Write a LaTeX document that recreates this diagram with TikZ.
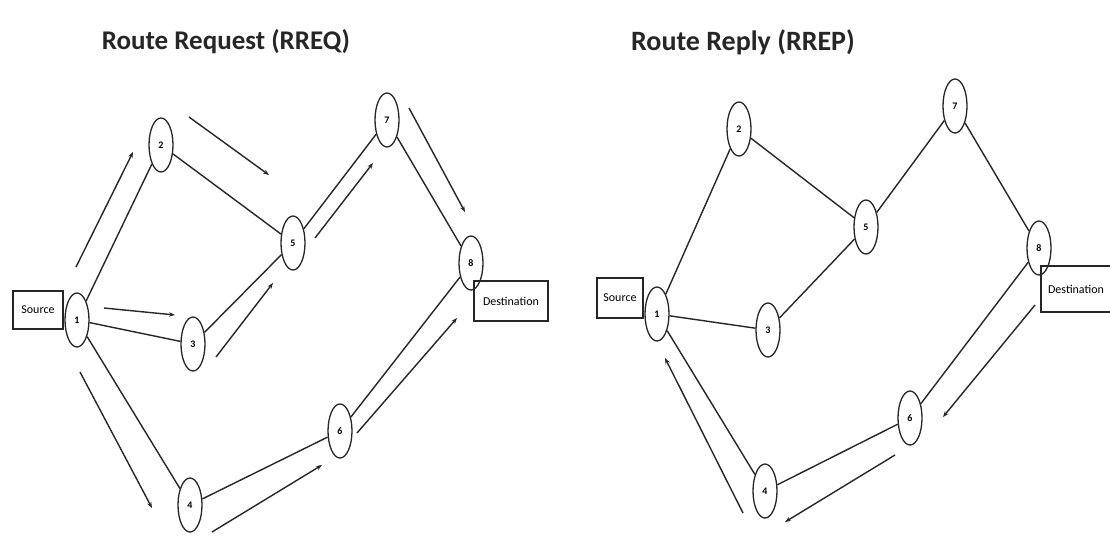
\documentclass[tikz,border=0pt]{standalone}
\usepackage{fontspec}
\setmainfont{Carlito}
\usetikzlibrary{shapes.geometric,arrows.meta}
\begin{document}
\begin{tikzpicture}[x=1pt,y=-1pt,
  nd/.style={draw=black!85,line width=1.3pt,ellipse,minimum width=24pt,minimum height=54pt,inner sep=0pt,font=\fontsize{10}{10}\selectfont\bfseries},
  lbl/.style={draw=black!85,line width=1.3pt,rectangle,inner sep=1pt,font=\fontsize{12}{12}\selectfont},
  edge/.style={draw=black!85,line width=1.4pt},
  msg/.style={draw=black!85,line width=1.4pt,-{Stealth[length=6pt,width=4.5pt]}},
  ttl/.style={font=\fontsize{27}{27}\selectfont\bfseries,text=black!85}]
\useasboundingbox (0,0) rectangle (1110,535);
% ---------- left panel: RREQ ----------
\node[ttl] (t1) at (226,42) {Route Request (RREQ)};
\node[nd] (a1) at (77,320) {1};
\node[nd] (a2) at (161,145) {2};
\node[nd] (a3) at (193,344) {3};
\node[nd] (a4) at (190,505) {4};
\node[nd] (a5) at (293,243) {5};
\node[nd] (a6) at (340,431) {6};
\node[nd] (a7) at (387,120) {7};
\node[nd] (a8) at (471,263) {8};
\node[lbl,minimum width=50pt,minimum height=38pt] (as) at (38,310) {Source};
\node[lbl,minimum width=74pt,minimum height=40pt] (ad) at (511,301) {Destination};
\draw[edge] (a1) -- (a2);
\draw[edge] (a2) -- (a5);
\draw[edge] (a5) -- (a7);
\draw[edge] (a7) -- (a8);
\draw[edge] (a1) -- (a3);
\draw[edge] (a3) -- (a5);
\draw[edge] (a1) -- (a4);
\draw[edge] (a4) -- (a6);
\draw[edge] (a6) -- (a8);
\coordinate (p1s) at (76,267); \coordinate (p1e) at (133,152);
\coordinate (p2s) at (189,117); \coordinate (p2e) at (269,175);
\coordinate (p3s) at (315,238); \coordinate (p3e) at (373,163);
\coordinate (p4s) at (409,108); \coordinate (p4e) at (465,212);
\coordinate (p5s) at (104,308); \coordinate (p5e) at (175,315);
\coordinate (p6s) at (216,357); \coordinate (p6e) at (273,283);
\coordinate (p7s) at (80,372); \coordinate (p7e) at (152,508);
\coordinate (p8s) at (212,532); \coordinate (p8e) at (322,465);
\coordinate (p9s) at (357,433); \coordinate (p9e) at (457,318);
\draw[msg] (p1s) -- (p1e);
\draw[msg] (p2s) -- (p2e);
\draw[msg] (p3s) -- (p3e);
\draw[msg] (p4s) -- (p4e);
\draw[msg] (p5s) -- (p5e);
\draw[msg] (p6s) -- (p6e);
\draw[msg] (p7s) -- (p7e);
\draw[msg] (p8s) -- (p8e);
\draw[msg] (p9s) -- (p9e);
% ---------- right panel: RREP ----------
\node[ttl,font=\fontsize{28}{28}\selectfont\bfseries] (t2) at (743,42) {Route Reply (RREP)};
\node[nd] (b1) at (657,314) {1};
\node[nd] (b2) at (739,129) {2};
\node[nd] (b3) at (768,330) {3};
\node[nd] (b4) at (765,491) {4};
\node[nd] (b5) at (866,227) {5};
\node[nd] (b6) at (910,418) {6};
\node[nd] (b7) at (955,106) {7};
\node[nd] (b8) at (1039,248) {8};
\node[lbl,minimum width=46pt,minimum height=40pt] (bs) at (620,298) {Source};
\node[lbl,minimum width=70pt,minimum height=46pt] (bd) at (1076,289) {Destination};
\draw[edge] (b1) -- (b2);
\draw[edge] (b2) -- (b5);
\draw[edge] (b5) -- (b7);
\draw[edge] (b7) -- (b8);
\draw[edge] (b1) -- (b3);
\draw[edge] (b3) -- (b5);
\draw[edge] (b1) -- (b4);
\draw[edge] (b4) -- (b6);
\draw[edge] (b6) -- (b8);
\coordinate (q1s) at (1035,305); \coordinate (q1e) at (943,417);
\coordinate (q2s) at (895,455); \coordinate (q2e) at (785,522);
\coordinate (q3s) at (743,513); \coordinate (q3e) at (665,358);
\draw[msg] (q1s) -- (q1e);
\draw[msg] (q2s) -- (q2e);
\draw[msg] (q3s) -- (q3e);
\end{tikzpicture}
\end{document}
